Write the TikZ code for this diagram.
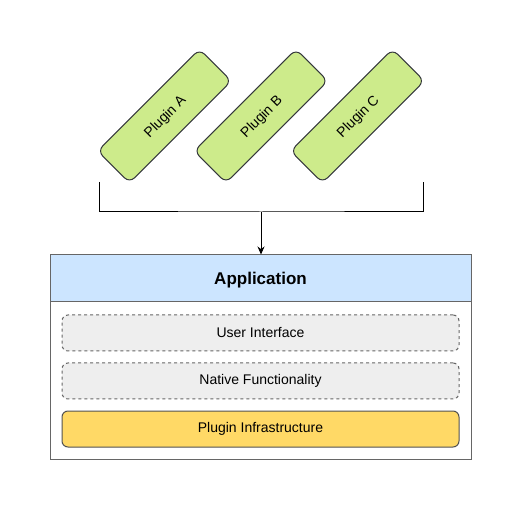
\documentclass[tikz,border=0pt]{standalone}
\usepackage{fontspec}
\setmainfont{Liberation Sans}
\usetikzlibrary{arrows.meta}
\definecolor{plugfill}{HTML}{CDEB8B}
\definecolor{plugdraw}{HTML}{36393D}
\definecolor{hdrfill}{HTML}{CCE5FF}
\definecolor{graydraw}{HTML}{666666}
\definecolor{layerfill}{HTML}{EEEEEE}
\definecolor{infrafill}{HTML}{FFD966}
\tikzset{
  every node/.style={font=\fontsize{14}{16}\selectfont, inner sep=0pt},
  plugin/.style={draw=plugdraw, fill=plugfill, rounded corners=7pt, line width=1pt,
    minimum width=144pt, minimum height=45pt, rotate=45, text depth=0pt},
  appbody/.style={draw=graydraw, fill=white, line width=1pt, minimum width=421pt, minimum height=204pt},
  apphdr/.style={draw=graydraw, fill=hdrfill, line width=1pt, minimum width=421pt, minimum height=47pt,
    font=\fontsize{17}{20}\selectfont\bfseries, text depth=0pt},
  layer/.style={draw=graydraw, fill=layerfill, dashed, dash pattern=on 3pt off 3pt, rounded corners=6pt,
    line width=1pt, minimum width=397pt, minimum height=36pt},
  infra/.style={draw=graydraw!80!black, fill=infrafill, rounded corners=6pt, line width=1pt,
    minimum width=397pt, minimum height=36pt},
  bracket/.style={draw=black, line width=1pt},
}
\begin{document}
\begin{tikzpicture}[x=1pt,y=1pt]
\useasboundingbox (0,0) rectangle (522,-510);
% plugins
\node[plugin] (pa) at (164.5,-116) {Plugin A};
\node[plugin] (pb) at (261,-116) {Plugin B};
\node[plugin] (pc) at (357.5,-116) {Plugin C};
% application
\node[appbody] (app) at (260.5,-357) {};
\node[apphdr] (hdr) at (260.5,-278.5) {Application};
\node[layer] (ui) at (260.5,-333) {User Interface};
\node[layer] (nf) at (260.5,-381) {Native Functionality};
\node[infra] (pi) at (260.5,-429) {Plugin Infrastructure};
% bracket
\coordinate (bl) at (99,-182);
\coordinate (br) at (423,-182);
\coordinate (bm) at (261,-212);
\draw[bracket] (bl) |- (bm) -| (br);
\draw[bracket, -{Stealth[length=8pt,width=7pt]}] (bm) -- (hdr.north -| bm);
\end{tikzpicture}
\end{document}
